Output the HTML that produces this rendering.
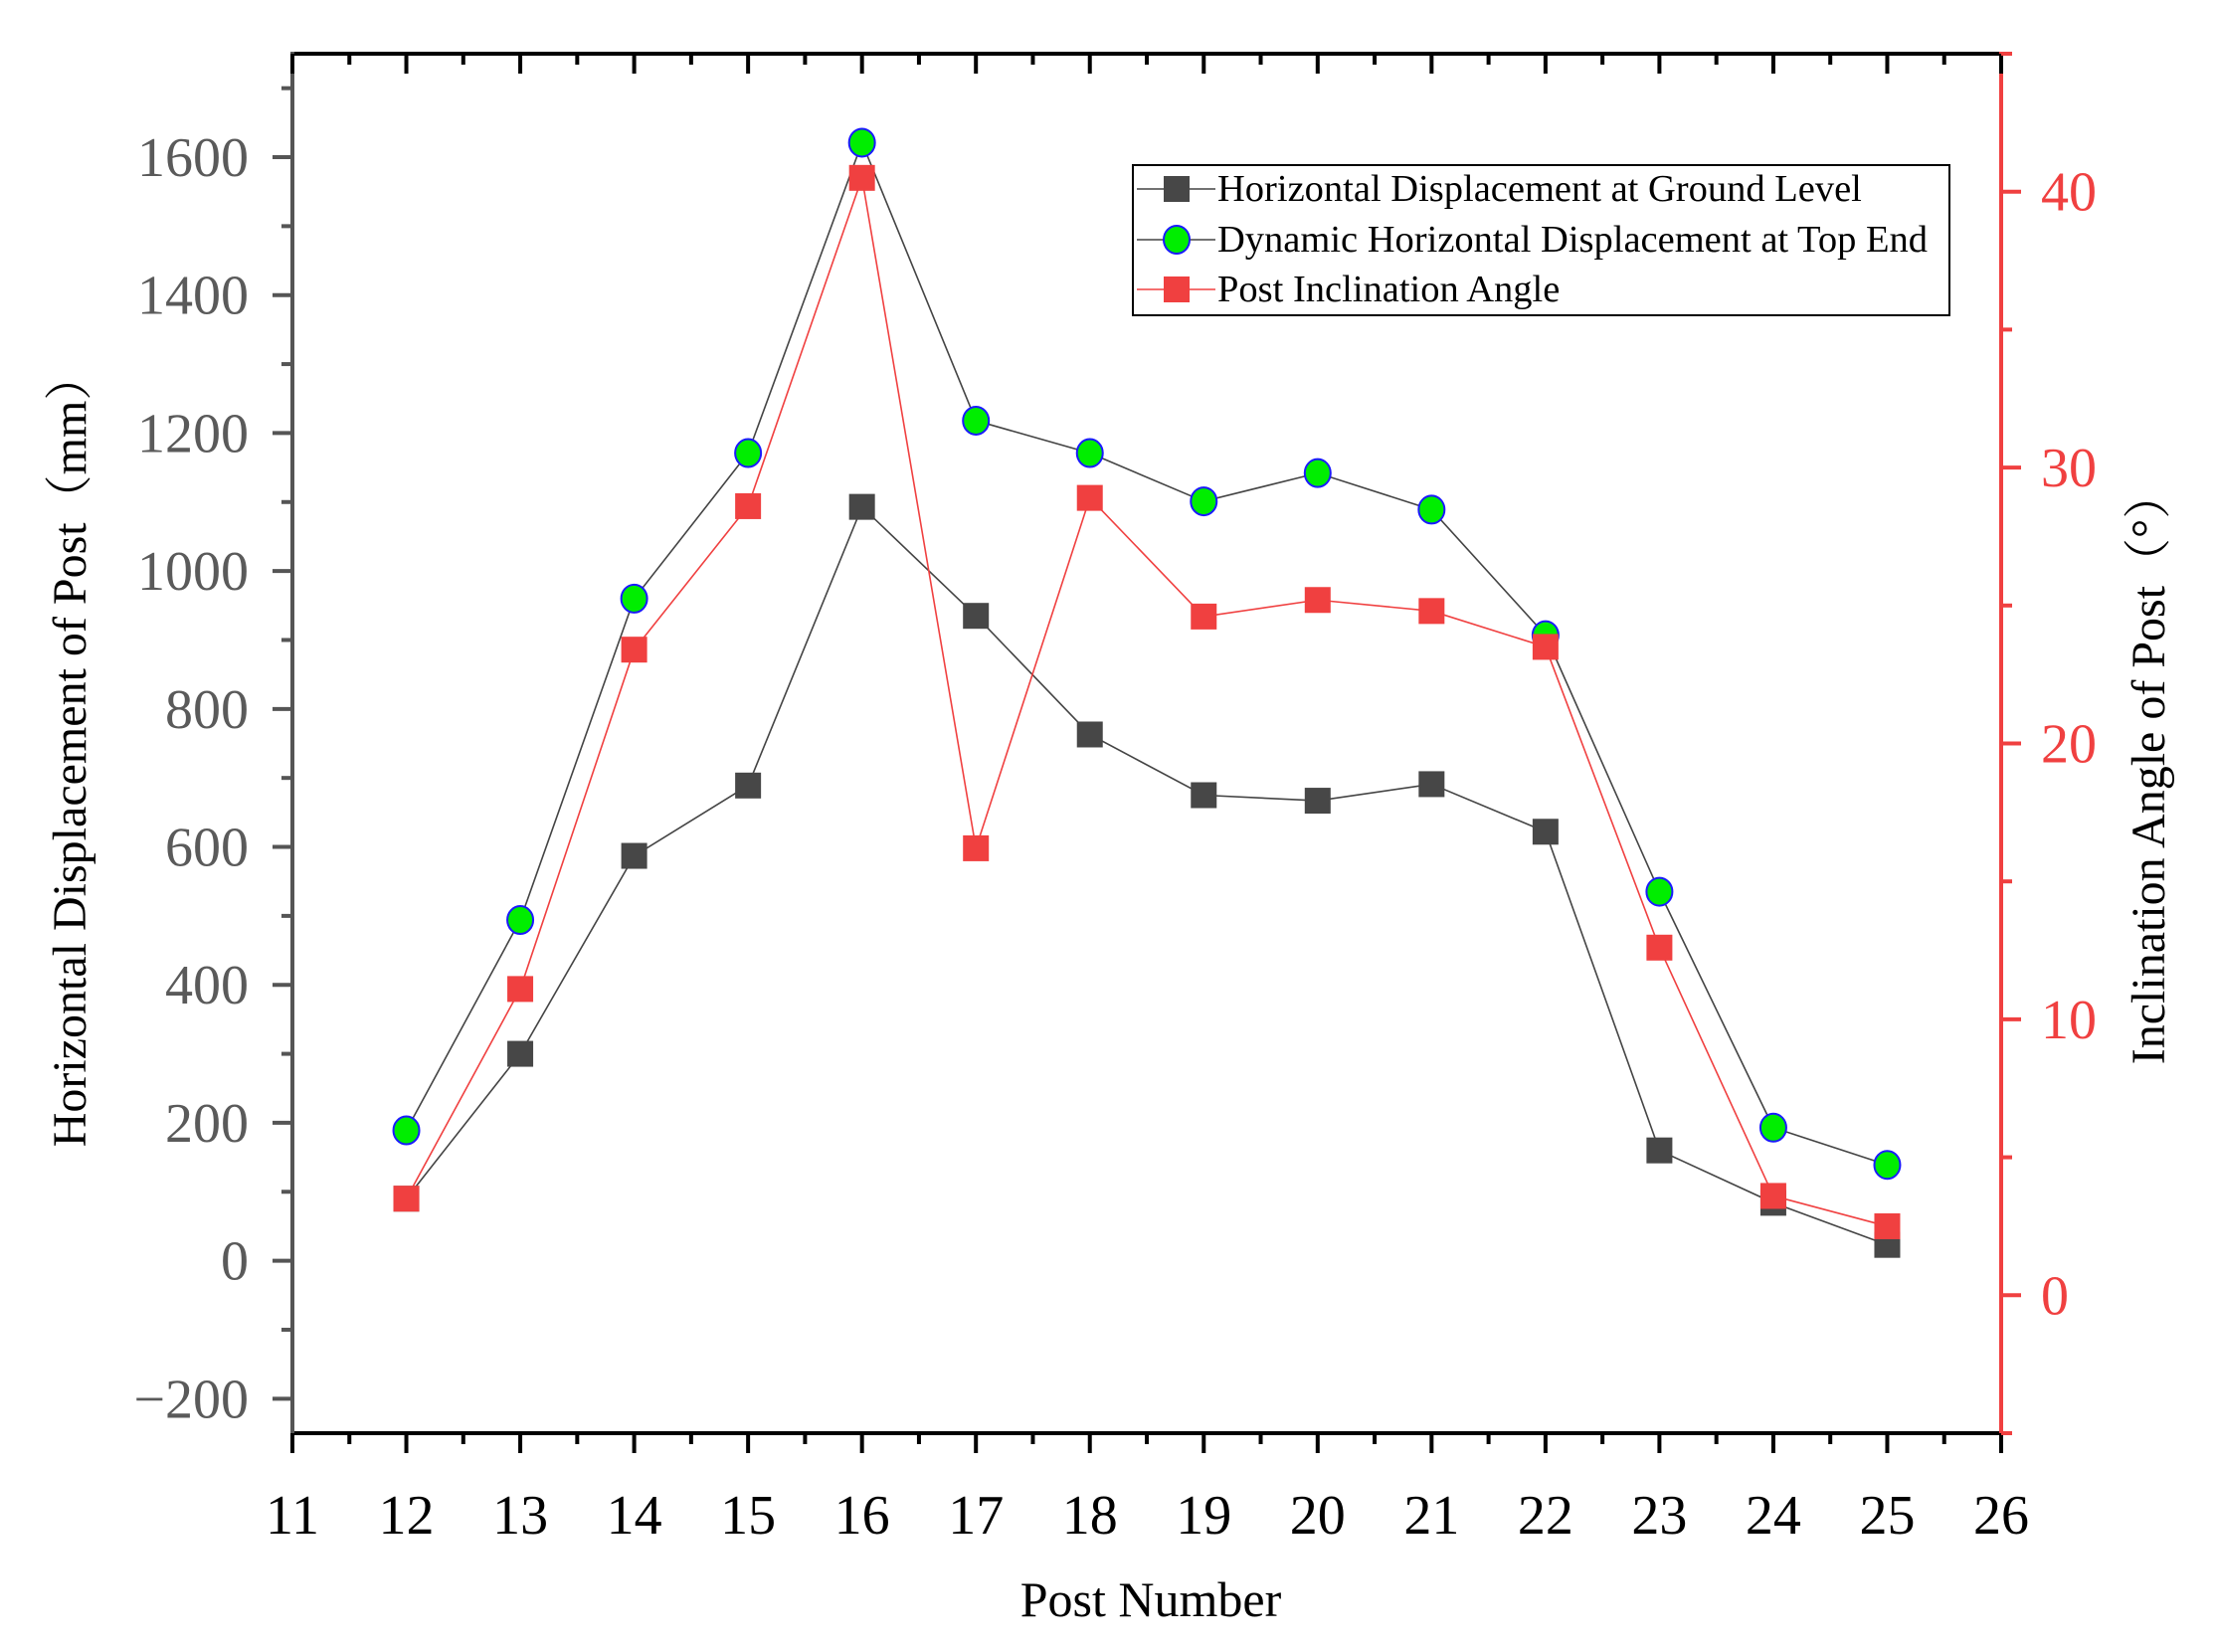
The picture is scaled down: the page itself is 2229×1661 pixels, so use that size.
<!DOCTYPE html>
<html><head><meta charset="utf-8"><style>
html,body{margin:0;padding:0;background:#fff;}
svg{display:block;font-family:"Liberation Serif","Noto Serif CJK SC",serif;}
</style></head><body>
<svg id="chart" width="2229" height="1661" viewBox="0 0 2229 1661" xmlns="http://www.w3.org/2000/svg">
<g id="axes"></g>
<g id="series"></g>
<g id="legend"></g>
</svg>
<script>
const posts = [12,13,14,15,16,17,18,19,20,21,22,23,24,25];
const groundDisp = [90,300,587,689,1093,935,763,675,667,691,622,160,84,23];
const topDisp = [189,494,960,1171,1621,1218,1171,1101,1142,1089,907,535,193,139];
const inclination = [3.5,11.1,23.4,28.6,40.5,16.2,28.9,24.6,25.2,24.8,23.5,12.6,3.6,2.5];
const xTicks = [11,12,13,14,15,16,17,18,19,20,21,22,23,24,25,26];
const yLeftTicks = [-200,0,200,400,600,800,1000,1200,1400,1600];
const yRightTicks = [0,10,20,30,40];
const seriesNames = ["Horizontal Displacement at Ground Level","Dynamic Horizontal Displacement at Top End","Post Inclination Angle"];

const L=294,R=2012,T=54,B=1441;
const xMin=11,xMax=26,yMin=-250,yMax=1750,rMin=-5,rMax=45;
const NS="http://www.w3.org/2000/svg";
function X(v){return L+(v-xMin)/(xMax-xMin)*(R-L);}
function Y(v){return B-(v-yMin)/(yMax-yMin)*(B-T);}
function YR(v){return B-(v-rMin)/(rMax-rMin)*(B-T);}
function mk(tag,attrs,parent,text){const e=document.createElementNS(NS,tag);for(const k in attrs)e.setAttribute(k,attrs[k]);if(text!==undefined)e.textContent=text;parent.appendChild(e);return e;}
const axes=document.getElementById('axes'),ser=document.getElementById('series'),leg=document.getElementById('legend');
const RED="#f04040",GRAY="#555";

let e;
e=mk('line',{x1:L,y1:T,x2:R,y2:T,stroke:"#000","stroke-width":4},axes);


e=mk('line',{x1:L-2,y1:B,x2:R,y2:B,stroke:"#000","stroke-width":4},axes);


e=mk('line',{x1:L,y1:T-2,x2:L,y2:B+2,stroke:GRAY,"stroke-width":4},axes);


e=mk('line',{x1:R,y1:T-2,x2:R,y2:B+2,stroke:RED,"stroke-width":4},axes);



for(let v=xMin;v<=xMax+0.001;v+=0.5){
  const major=Math.abs(v-Math.round(v))<0.01;
  const x=X(v);
  mk('line',{x1:x,y1:B,x2:x,y2:B+(major?20:11),stroke:"#000","stroke-width":4},axes);
  mk('line',{x1:x,y1:T,x2:x,y2:T+(major?20:11),stroke:"#000","stroke-width":4},axes);
}
xTicks.forEach(v=>{
  e=mk('text',{x:X(v),y:1542,"font-size":56,"text-anchor":"middle",fill:"#000"},axes,String(v));
  
  
});
for(let v=-200;v<=1700;v+=100){
  const major=v%200===0;
  mk('line',{x1:L,y1:Y(v),x2:L-(major?20:11),y2:Y(v),stroke:GRAY,"stroke-width":4},axes);
}
yLeftTicks.forEach(v=>{
  e=mk('text',{x:250,y:Y(v)+19,"font-size":56,"text-anchor":"end",fill:"#5a5a5a"},axes,v<0?"\u2212"+(-v):String(v));
  
  
});
for(let v=-5;v<=45;v+=5){
  const major=v%10===0;
  mk('line',{x1:R,y1:YR(v),x2:R+(major?20:11),y2:YR(v),stroke:RED,"stroke-width":4},axes);
}
yRightTicks.forEach(v=>{
  e=mk('text',{x:2052,y:YR(v)+19,"font-size":56,"text-anchor":"start",fill:RED},axes,String(v));
  
  
});
e=mk('text',{x:1157,y:1625,"font-size":50,"text-anchor":"middle",fill:"#000"},axes,"Post Number");


e=mk('text',{x:0,y:0,"font-size":48,"text-anchor":"middle",fill:"#000",transform:"translate(86,754) rotate(-90)"},axes,"Horizontal Displacement of Post（mm）");


e=mk('text',{x:0,y:0,"font-size":48,"text-anchor":"middle",fill:"#000",transform:"translate(2176,772) rotate(-90)"},axes,"Inclination Angle of Post（°）");



function line(vals,fy,color,name){
  const pts=posts.map((p,i)=>X(p)+","+fy(vals[i])).join(" ");
  e=mk('polyline',{points:pts,fill:"none",stroke:color,"stroke-width":1.6},ser);
  
  
}
line(groundDisp,Y,"#444","ground-displacement-line");
line(topDisp,Y,"#444","top-displacement-line");
line(inclination,YR,RED,"inclination-line");
posts.forEach((p,i)=>{
  e=mk('rect',{x:X(p)-13,y:Y(groundDisp[i])-13,width:26,height:26,fill:"#474747"},ser);
  
  
});
posts.forEach((p,i)=>{
  e=mk('ellipse',{cx:X(p),cy:Y(topDisp[i]),rx:13,ry:14,fill:"#00ee00",stroke:"#1a1aff","stroke-width":2},ser);
  
  
});
posts.forEach((p,i)=>{
  e=mk('rect',{x:X(p)-13,y:YR(inclination[i])-13,width:26,height:26,fill:RED},ser);
  
  
});

e=mk('rect',{x:1139,y:166,width:821,height:151,fill:"#fff",stroke:"#000","stroke-width":2},leg);


const legY=[190,241,291];
seriesNames.forEach((n,i)=>{
  const y=legY[i];
  const col=i===2?RED:"#444";
  mk('line',{x1:1143,y1:y,x2:1222,y2:y,stroke:col,"stroke-width":1.6},leg);
  if(i===0) mk('rect',{x:1170,y:y-13,width:26,height:26,fill:"#474747"},leg);
  if(i===1) mk('ellipse',{cx:1183,cy:y,rx:13,ry:14,fill:"#00ee00",stroke:"#1a1aff","stroke-width":2},leg);
  if(i===2) mk('rect',{x:1170,y:y-13,width:26,height:26,fill:RED},leg);
  e=mk('text',{x:1224,y:y+12,"font-size":38.5,fill:"#000"},leg,n);
  
  
});
</script>
</body></html>
